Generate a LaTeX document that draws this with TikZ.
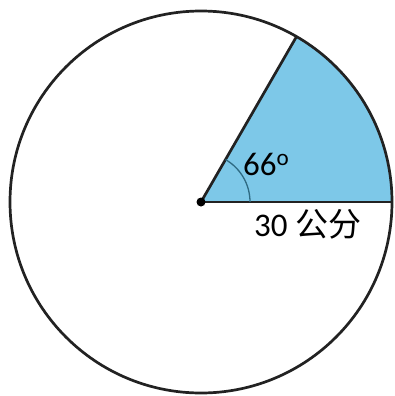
\documentclass[tikz,border=0pt]{standalone}
\usepackage{fontspec}
\usetikzlibrary{calc}
\setmainfont{Carlito}
\newfontfamily\cjk{Noto Sans CJK SC}
\definecolor{sectorblue}{HTML}{7DC8E8}
\definecolor{arcteal}{HTML}{2E6A82}
\definecolor{edgegray}{HTML}{222222}
\begin{document}
\begin{tikzpicture}[x=1pt,y=-1pt,
  rim/.style={draw=edgegray,line width=2.7pt},
  radius line/.style={draw=edgegray,line width=2.7pt},
  anglearc/.style={draw=arcteal,line width=1.3pt},
  lbl/.style={inner sep=0pt,font=\fontsize{33}{34}\selectfont}]
\useasboundingbox (0,0) rectangle (394,396);
\coordinate (C) at (201,202);
\coordinate (A) at (392,202);
\coordinate (B) at (296.5,36.6);
\fill[sectorblue] (C) -- (A) arc[start angle=0,end angle=-60,radius=191] -- cycle;
\draw[radius line] (C) -- (A);
\draw[radius line] (C) -- (B);
\draw[anglearc] (250,202) arc[start angle=0,end angle=-60,radius=49];
\draw[rim] (C) circle[radius=191];
\fill[black] (C) circle[radius=4.5];
\node[lbl,anchor=base west] (ang) at (243,175) {66\textsuperscript{o}};
\node[lbl,anchor=base west] (len) at (254,236) {30 {\cjk 公分}};
\end{tikzpicture}
\end{document}
